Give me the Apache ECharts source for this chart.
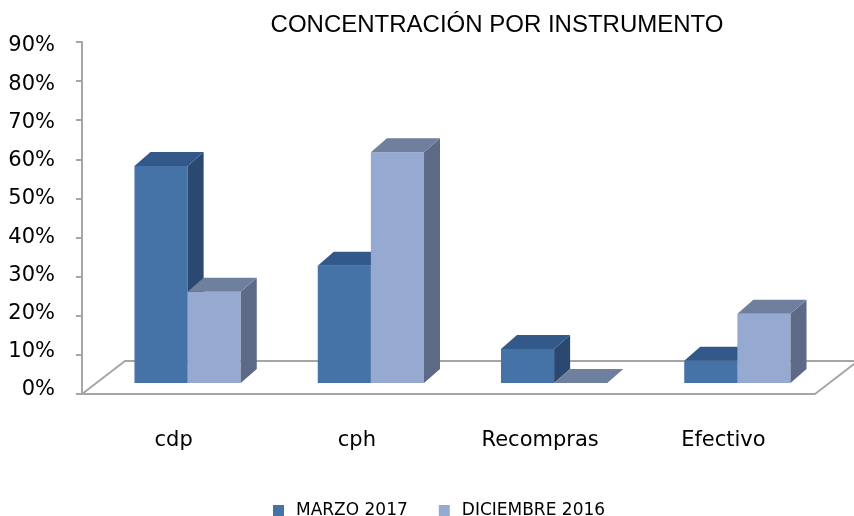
<!DOCTYPE html>
<html>
<head>
<meta charset="utf-8">
<script src="https://cdn.jsdelivr.net/npm/echarts@6/dist/echarts.min.js"></script>
<style>
  html, body { margin: 0; padding: 0; background: #fff; }
  #chart { width: 854px; height: 516px; }
</style>
</head>
<body>
<div id="chart"></div>
<script>
const categories = ['cdp', 'cph', 'Recompras', 'Efectivo']
const marzo2017 = [0.555, 0.30, 0.087, 0.057]
const diciembre2016 = [0.233, 0.59, 0, 0.177]
const yMax = 0.9
const yStep = 0.1

// oblique 3d look, in pixels
const FLOOR_DX = 43
const FLOOR_DY = -33
const BASE_DX = 14
const BASE_DY = -11
const DEPTH_DX = 16
const DEPTH_DY = -14
const BAR_RATIO = 0.29

const shades = [
  { front: '#4572A7', top: '#33588A', side: '#2B4870' },
  { front: '#95A9D1', top: '#6F7F9E', side: '#5D6A86' }
]

function barRenderer(seriesIdx) {
  return function (params, api) {
    const i = api.value(0)
    const v = api.value(1)
    const base = api.coord([i, 0])
    const topPt = api.coord([i, v])
    const bw = api.size([1, 0])[0]
    const w = bw * BAR_RATIO
    const xl = base[0] + BASE_DX - w + seriesIdx * w
    const yb = base[1] + BASE_DY
    const yt = topPt[1] + BASE_DY
    const c = shades[seriesIdx]
    const children = []
    if (yb - yt > 0.5) {
      children.push({
        type: 'rect',
        shape: { x: xl, y: yt, width: w, height: yb - yt },
        style: { fill: c.front }
      })
      children.push({
        type: 'polygon',
        shape: { points: [[xl + w, yt], [xl + w + DEPTH_DX, yt + DEPTH_DY], [xl + w + DEPTH_DX, yb + DEPTH_DY], [xl + w, yb]] },
        style: { fill: c.side }
      })
    }
    children.push({
      type: 'polygon',
      shape: { points: [[xl, yt], [xl + w, yt], [xl + w + DEPTH_DX, yt + DEPTH_DY], [xl + DEPTH_DX, yt + DEPTH_DY]] },
      style: { fill: c.top }
    })
    return { type: 'group', children: children }
  }
}

function floorRenderer(params, api) {
  const first = api.coord([0, 0])
  const last = api.coord([categories.length - 1, 0])
  const bw = api.size([1, 0])[0]
  const L = first[0] - bw / 2
  const R = last[0] + bw / 2
  const y0 = first[1]
  return {
    type: 'polyline',
    shape: { points: [[L, y0], [L + FLOOR_DX, y0 + FLOOR_DY], [R + FLOOR_DX, y0 + FLOOR_DY], [R, y0]] },
    style: { stroke: '#A6A6A6', lineWidth: 2, fill: null }
  }
}

const chart = echarts.init(document.getElementById('chart'))

const labelFont = { fontFamily: 'DejaVu Sans', fontSize: 21, color: '#000' }

const option = {
  animation: false,
  title: {
    text: 'CONCENTRACIÓN POR INSTRUMENTO',
    left: 492,
    textAlign: 'center',
    top: 8,
    textStyle: { fontFamily: 'Liberation Sans', fontSize: 24, fontWeight: 'normal', color: '#000' }
  },
  legend: {
    left: 268,
    top: 497,
    itemWidth: 11,
    itemHeight: 11,
    itemGap: 31,
    icon: 'rect',
    data: ['MARZO 2017', 'DICIEMBRE 2016'],
    textStyle: { fontFamily: 'DejaVu Sans', fontSize: 17, color: '#000', padding: [0, 0, 0, 7] }
  },
  grid: [
    { left: 82, right: 39, top: 42, bottom: 122 },
    // label plane for the value axis (labels sit on a slightly tighter scale)
    { left: 82, right: 39, top: 46, bottom: 126 }
  ],
  xAxis: [
    {
      type: 'category',
      gridIndex: 0,
      data: categories,
      axisLine: { lineStyle: { color: '#A6A6A6', width: 2 } },
      axisTick: { length: 9, lineStyle: { color: '#A6A6A6', width: 2 } },
      axisLabel: Object.assign({ margin: 36 }, labelFont)
    },
    { type: 'category', gridIndex: 1, data: categories, show: false }
  ],
  yAxis: [
    {
      type: 'value',
      gridIndex: 0,
      min: 0,
      max: yMax,
      interval: yStep,
      splitLine: { show: false },
      axisLine: { show: true, lineStyle: { color: '#A6A6A6', width: 2 } },
      axisTick: { show: true, length: 6, lineStyle: { color: '#A6A6A6', width: 2 } },
      axisLabel: { show: false }
    },
    {
      type: 'value',
      gridIndex: 1,
      min: 0,
      max: yMax,
      interval: yStep,
      splitLine: { show: false },
      axisLine: { show: false },
      axisTick: { show: false },
      axisLabel: Object.assign({
        margin: 27,
        formatter: (v) => Math.round(v * 100) + '%'
      }, labelFont)
    }
  ],
  series: [
    {
      name: 'floor',
      type: 'custom',
      renderItem: floorRenderer,
      data: [[0, 0]],
      silent: true,
      z: 1
    },
    {
      name: 'MARZO 2017',
      type: 'custom',
      renderItem: barRenderer(0),
      itemStyle: { color: shades[0].front },
      data: categories.map((c, i) => [i, marzo2017[i]]),
      z: 2
    },
    {
      name: 'DICIEMBRE 2016',
      type: 'custom',
      renderItem: barRenderer(1),
      itemStyle: { color: shades[1].front },
      data: categories.map((c, i) => [i, diciembre2016[i]]),
      z: 3
    }
  ]
}

chart.setOption(option)
</script>
</body>
</html>
